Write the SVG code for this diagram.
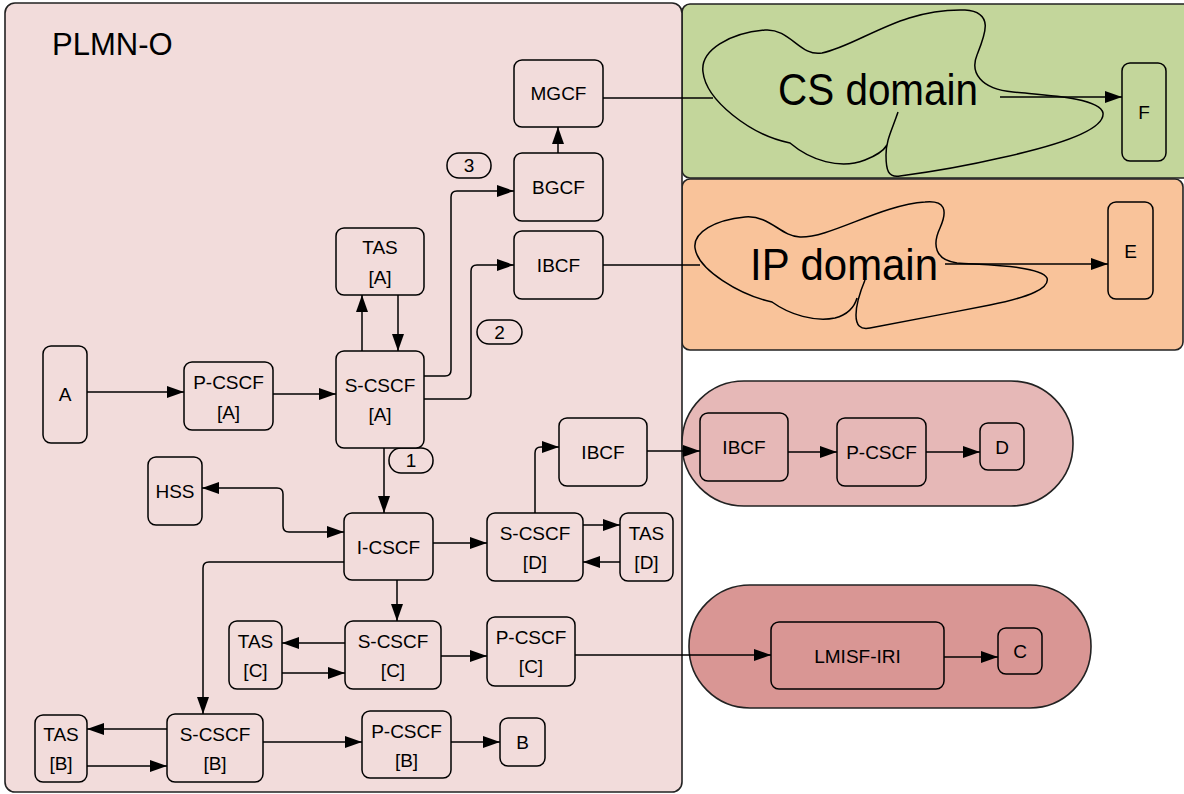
<svg xmlns="http://www.w3.org/2000/svg" width="1184" height="794" viewBox="0 0 1184 794">
<defs>
<style>
.box{stroke:#000;stroke-width:1.5}
.n{fill:#f2dcdb}
.cont{stroke:#222;stroke-width:1.6}
.t{font-family:"Liberation Sans",Arial,sans-serif;font-size:19px;text-anchor:middle;fill:#000}
.big{font-family:"Liberation Sans",Arial,sans-serif;font-size:45px;text-anchor:middle;fill:#000}
.c{fill:none;stroke:#000;stroke-width:1.5}
.a{marker-end:url(#ah)}
.cloud{fill:none;stroke:#000;stroke-width:1.5}
</style>
<marker id="ah" markerUnits="userSpaceOnUse" viewBox="0 0 17 12" refX="17" refY="6" markerWidth="17" markerHeight="12" orient="auto-start-reverse">
<path d="M0,0 L17,6 L0,12 z" fill="#000"/>
</marker>
</defs>

<g id="containers">
<rect id="cs-area" x="682" y="4" width="520" height="174" rx="8" fill="#c3d69b" class="cont"/>
<rect id="ip-area" x="682" y="179" width="501" height="171" rx="8" fill="#f9c39a" class="cont"/>
<rect id="plmn-o" x="5" y="3" width="677" height="789" rx="10" fill="#f2dcdb" class="cont"/>
<text x="52" y="55" font-family="Liberation Sans,Arial,sans-serif" font-size="31">PLMN-O</text>
<rect id="d-area" x="682" y="381" width="391" height="125" rx="62" fill="#e6b8b7" class="cont"/>
<rect id="c-area" x="689" y="585" width="402" height="123" rx="61" fill="#d99694" class="cont"/>
</g>

<g id="clouds">
<g id="cs-domain">
<path class="cloud" d="M898,112 C892,130 886,140 886,155 C886,170 888,178 900,176 C930,172 970,165 1000,158 C1060,145 1105,130 1103,113 C1100,97 1040,95 1013,92 C980,89 970,72 977,55 C985,35 995,12 965,10 C900,8 860,45 822,53 C800,57 790,28 765,30 C730,33 700,50 703,72 C706,100 750,135 790,143 C810,160 840,170 865,160 C878,155 884,150 887,145"/>
<text class="big" x="878" y="105" textLength="200" lengthAdjust="spacingAndGlyphs">CS domain</text>
</g>
<g id="ip-domain">
<path class="cloud" d="M865,280 C860,292 856,305 856,315 C856,325 860,330 870,328 C900,322 950,313 990,305 C1030,297 1050,288 1047,278 C1040,265 980,265 957,263 C935,260 932,245 940,228 C948,210 945,200 925,202 C880,205 830,238 800,237 C780,236 770,215 745,217 C715,220 693,232 695,248 C698,270 740,295 772,302 C790,315 815,322 835,318 C850,314 855,305 857,298"/>
<text class="big" x="844" y="280" textLength="188" lengthAdjust="spacingAndGlyphs">IP domain</text>
</g>
</g>

<g id="connectors">
<path class="c a" d="M87,392 H184"/>
<path class="c a" d="M273,394 H336"/>
<path class="c a" d="M362,351 V295"/>
<path class="c a" d="M398,295 V351"/>
<path class="c a" d="M424,376 H445 Q451,376 451,370 V197 Q451,191 457,191 H514"/>
<path class="c a" d="M424,399 H465 Q471,399 471,393 V271 Q471,265 477,265 H514"/>
<path class="c a" d="M558,153 V127"/>
<path class="c" d="M603,98 H713"/>
<path class="c a" d="M1000,97 H1122"/>
<path class="c" d="M603,265 H700"/>
<path class="c a" d="M945,264 H1108"/>
<path class="c a" d="M384,448 V513"/>
<path class="c a" d="M202,488 H277 Q283,488 283,494 V526 Q283,532 289,532 H344" marker-start="url(#ah)"/>
<path class="c a" d="M433,543 H487"/>
<path class="c a" d="M344,562 H209 Q203,562 203,568 V714"/>
<path class="c a" d="M397,580 V621"/>
<path class="c a" d="M535,513 V453 Q535,447 541,447 H559"/>
<path class="c a" d="M583,525 H620"/>
<path class="c a" d="M620,562 H583"/>
<path class="c a" d="M647,451 H700"/>
<path class="c a" d="M788,452 H837"/>
<path class="c a" d="M926,452 H980"/>
<path class="c a" d="M345,643 H282"/>
<path class="c a" d="M282,673 H345"/>
<path class="c a" d="M441,656 H487"/>
<path class="c a" d="M575,655 H771"/>
<path class="c a" d="M944,657 H998"/>
<path class="c a" d="M167,729 H87"/>
<path class="c a" d="M87,766 H167"/>
<path class="c a" d="M263,742 H362"/>
<path class="c a" d="M451,742 H500"/>
</g>

<g id="edge-labels">
<g id="lbl-1"><rect x="389" y="448" width="44" height="25" rx="12" class="box n"/><text class="t" x="411" y="467">1</text></g>
<g id="lbl-2"><rect x="477" y="320" width="45" height="24" rx="12" class="box n"/><text class="t" x="499.5" y="339">2</text></g>
<g id="lbl-3"><rect x="447" y="153" width="44" height="25" rx="12" class="box n"/><text class="t" x="469" y="172">3</text></g>
</g>

<g id="mgcf"><rect x="514" y="60" width="89" height="67" rx="8" class="box n"/><text class="t" x="558.5" y="100">MGCF</text></g>
<g id="bgcf"><rect x="514" y="153" width="89" height="68" rx="8" class="box n"/><text class="t" x="558.5" y="194">BGCF</text></g>
<g id="ibcf-top"><rect x="514" y="231" width="89" height="68" rx="8" class="box n"/><text class="t" x="558.5" y="272">IBCF</text></g>
<g id="tas-a"><rect x="336" y="228" width="88" height="67" rx="8" class="box n"/><text class="t" x="380" y="254">TAS</text><text class="t" x="380" y="284">[A]</text></g>
<g id="scscf-a"><rect x="336" y="351" width="88" height="97" rx="8" class="box n"/><text class="t" x="380" y="392">S-CSCF</text><text class="t" x="380" y="421">[A]</text></g>
<g id="a"><rect x="43" y="346" width="44" height="97" rx="8" class="box n"/><text class="t" x="65" y="401">A</text></g>
<g id="pcscf-a"><rect x="184" y="362" width="89" height="68" rx="8" class="box n"/><text class="t" x="228.5" y="389">P-CSCF</text><text class="t" x="228.5" y="419">[A]</text></g>
<g id="hss"><rect x="148" y="457" width="54" height="68" rx="8" class="box n"/><text class="t" x="175" y="498">HSS</text></g>
<g id="icscf"><rect x="344" y="513" width="89" height="67" rx="8" class="box n"/><text class="t" x="388.5" y="553.5">I-CSCF</text></g>
<g id="ibcf-mid"><rect x="559" y="418" width="88" height="68" rx="8" class="box n"/><text class="t" x="603" y="459">IBCF</text></g>
<g id="scscf-d"><rect x="487" y="513" width="96" height="68" rx="8" class="box n"/><text class="t" x="535" y="540">S-CSCF</text><text class="t" x="535" y="569">[D]</text></g>
<g id="tas-d"><rect x="620" y="513" width="53" height="68" rx="8" class="box n"/><text class="t" x="646.5" y="540">TAS</text><text class="t" x="646.5" y="569">[D]</text></g>
<g id="tas-c"><rect x="229" y="621" width="53" height="68" rx="8" class="box n"/><text class="t" x="255.5" y="648">TAS</text><text class="t" x="255.5" y="677">[C]</text></g>
<g id="scscf-c"><rect x="345" y="621" width="96" height="68" rx="8" class="box n"/><text class="t" x="393" y="648">S-CSCF</text><text class="t" x="393" y="677">[C]</text></g>
<g id="pcscf-c"><rect x="487" y="617" width="88" height="69" rx="8" class="box n"/><text class="t" x="531" y="644">P-CSCF</text><text class="t" x="531" y="673">[C]</text></g>
<g id="tas-b"><rect x="35" y="715" width="52" height="67" rx="8" class="box n"/><text class="t" x="61" y="741">TAS</text><text class="t" x="61" y="770">[B]</text></g>
<g id="scscf-b"><rect x="167" y="714" width="96" height="68" rx="8" class="box n"/><text class="t" x="215" y="741">S-CSCF</text><text class="t" x="215" y="770">[B]</text></g>
<g id="pcscf-b"><rect x="362" y="711" width="89" height="67" rx="8" class="box n"/><text class="t" x="406.5" y="738">P-CSCF</text><text class="t" x="406.5" y="767">[B]</text></g>
<g id="b"><rect x="500" y="718" width="45" height="48" rx="8" class="box n"/><text class="t" x="522.5" y="749">B</text></g>
<g id="ibcf-d"><rect x="700" y="413" width="88" height="68" rx="8" class="box" fill="#e6b8b7"/><text class="t" x="744" y="454">IBCF</text></g>
<g id="pcscf-d"><rect x="837" y="418" width="89" height="68" rx="8" class="box" fill="#e6b8b7"/><text class="t" x="881.5" y="459">P-CSCF</text></g>
<g id="d"><rect x="980" y="423" width="44" height="47" rx="8" class="box" fill="#e6b8b7"/><text class="t" x="1002" y="453.5">D</text></g>
<g id="lmisf-iri"><rect x="771" y="622" width="173" height="67" rx="8" class="box" fill="#d99694"/><text class="t" x="857.5" y="662.5">LMISF-IRI</text></g>
<g id="c"><rect x="998" y="628" width="44" height="46" rx="8" class="box" fill="#d99694"/><text class="t" x="1020" y="658">C</text></g>
<g id="f"><rect x="1122" y="63" width="44" height="98" rx="8" class="box" fill="#c3d69b"/><text class="t" x="1144" y="119">F</text></g>
<g id="e"><rect x="1108" y="202" width="45" height="97" rx="8" class="box" fill="#f9c39a"/><text class="t" x="1130.5" y="257.5">E</text></g>
</svg>
